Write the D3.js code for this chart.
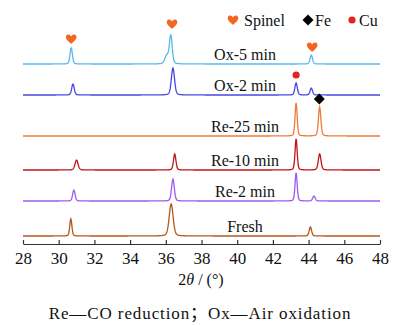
<!DOCTYPE html>
<html>
<head>
<meta charset="utf-8">
<script src="https://cdn.jsdelivr.net/npm/d3@7/dist/d3.min.js"></script>
<style>
  html, body { margin: 0; padding: 0; background: #fff; }
  svg { display: block; }
  text { font-family: "Liberation Serif", "Times New Roman", serif; fill: #111; }
</style>
</head>
<body>
<div id="chart"></div>
<script>
// XRD patterns: peaks as [2theta, height, fwhm]
const seriesNames = ["Ox-5 min", "Ox-2 min", "Re-25 min", "Re-10 min", "Re-2 min", "Fresh"];
const seriesColors = ["#58b8ea", "#4848e0", "#f07a3a", "#c0141c", "#9a5cf0", "#b4581c"];
const seriesOffsets = [180, 149, 108, 74, 43, 8];
const seriesPeaks = [
  [[30.7, 16, 0.16], [36.28, 28, 0.19], [36.05, 8, 0.25], [44.15, 9, 0.16]],
  [[30.8, 11, 0.17], [36.4, 27, 0.21], [43.3, 12, 0.16], [44.15, 7, 0.16]],
  [[43.3, 33, 0.14], [44.62, 29, 0.16]],
  [[31.0, 10, 0.2], [36.5, 16, 0.16], [43.3, 31, 0.14], [44.62, 16, 0.18]],
  [[30.85, 11, 0.16], [36.4, 22, 0.18], [43.3, 28, 0.14], [44.3, 5, 0.16]],
  [[30.68, 17, 0.14], [36.3, 32, 0.26], [44.1, 9, 0.16]]
];
const xTicks = [28, 30, 32, 34, 36, 38, 40, 42, 44, 46, 48];

// phase markers: [type, 2theta, intensity]
const markers = [
  ["spinel", 30.7, 205], ["spinel", 36.35, 220], ["spinel", 44.2, 197],
  ["cu", 43.3, 169], ["fe", 44.6, 145]
];
const legendItems = [["spinel", "Spinel"], ["fe", "Fe"], ["cu", "Cu"]];

const width = 393, height = 325;
const x = d3.scaleLinear().domain([28, 48]).range([23, 380]);
const y = d3.scaleLinear().domain([0, 230]).range([244, 14]);

const svg = d3.select("#chart").append("svg")
  .attr("width", width).attr("height", height);

// pseudo-Voigt profile built from the read peak list
function profile(peaks, offset) {
  const pts = [];
  for (let t = 28; t <= 48.0001; t += 0.02) {
    let v = 0;
    peaks.forEach(([c, h, w]) => {
      const d = (t - c) / (w / 2);
      const g = Math.exp(-Math.LN2 * d * d);
      const l = 1 / (1 + d * d);
      v += h * (0.75 * g + 0.25 * l);
    });
    pts.push([t, offset + v]);
  }
  return pts;
}

const line = d3.line().x(d => x(d[0])).y(d => y(d[1]));

seriesNames.forEach((name, i) => {
  svg.append("path")
    .datum(profile(seriesPeaks[i], seriesOffsets[i]))
    .attr("d", line)
    .attr("fill", "none")
    .attr("stroke", seriesColors[i])
    .attr("stroke-width", 1.3);

  svg.append("text")
    .attr("x", 245)
    .attr("y", y(seriesOffsets[i]) - 4)
    .attr("text-anchor", "middle")
    .style("font-size", "16px")
    .text(name);
});

// marker shapes
const heartPath = "M0,4.8 C-2,3 -6,0 -5.2,-2.6 C-4.6,-5.2 -1,-5.2 0,-2.4 C1,-5.2 4.6,-5.2 5.2,-2.6 C6,0 2,3 0,4.8Z";
function drawMarker(g, type) {
  if (type === "spinel") {
    g.append("path").attr("d", heartPath).attr("fill", "#f26522");
  } else if (type === "fe") {
    g.append("path").attr("d", d3.symbol(d3.symbolSquare, 60)()).attr("transform", "rotate(45)").attr("fill", "#000");
  } else {
    g.append("circle").attr("r", 3.6).attr("fill", "#e8221e");
  }
}

markers.forEach(([type, t, v]) => {
  const g = svg.append("g").attr("transform", `translate(${x(t)},${y(v)})`);
  drawMarker(g, type);
});

// legend
const legendX = [233, 308, 352];
legendItems.forEach(([type, label], i) => {
  const g = svg.append("g").attr("transform", `translate(${legendX[i]},20)`);
  drawMarker(g, type);
  g.append("text").attr("x", type === "spinel" ? 11 : 7).attr("y", 5.5)
    .style("font-size", "16px").text(label);
});

// x axis
const axis = svg.append("g")
  .attr("transform", `translate(0,${y(0)})`)
  .call(d3.axisBottom(x).tickValues(xTicks).tickSizeInner(-4).tickSizeOuter(0).tickPadding(8));
axis.select(".domain").attr("stroke", "#333").attr("stroke-width", 1.2);
axis.selectAll(".tick line").attr("stroke", "#333").attr("stroke-width", 1.2);
axis.selectAll(".tick text")
  .style("font-family", "'Liberation Serif', serif")
  .style("font-size", "17px").attr("fill", "#111");

const title = svg.append("text")
  .attr("x", 201).attr("y", 285)
  .attr("text-anchor", "middle")
  .style("font-size", "16px");
title.append("tspan").text("2");
title.append("tspan").style("font-style", "italic").text("θ");
title.append("tspan").text(" / (°)");

svg.append("text")
  .attr("x", 200).attr("y", 319)
  .attr("text-anchor", "middle")
  .style("font-family", "'Liberation Serif', 'Noto Sans CJK SC', serif")
  .style("font-size", "17px")
  .style("letter-spacing", "0.9px")
  .text("Re—CO reduction；Ox—Air oxidation");
</script>
</body>
</html>
